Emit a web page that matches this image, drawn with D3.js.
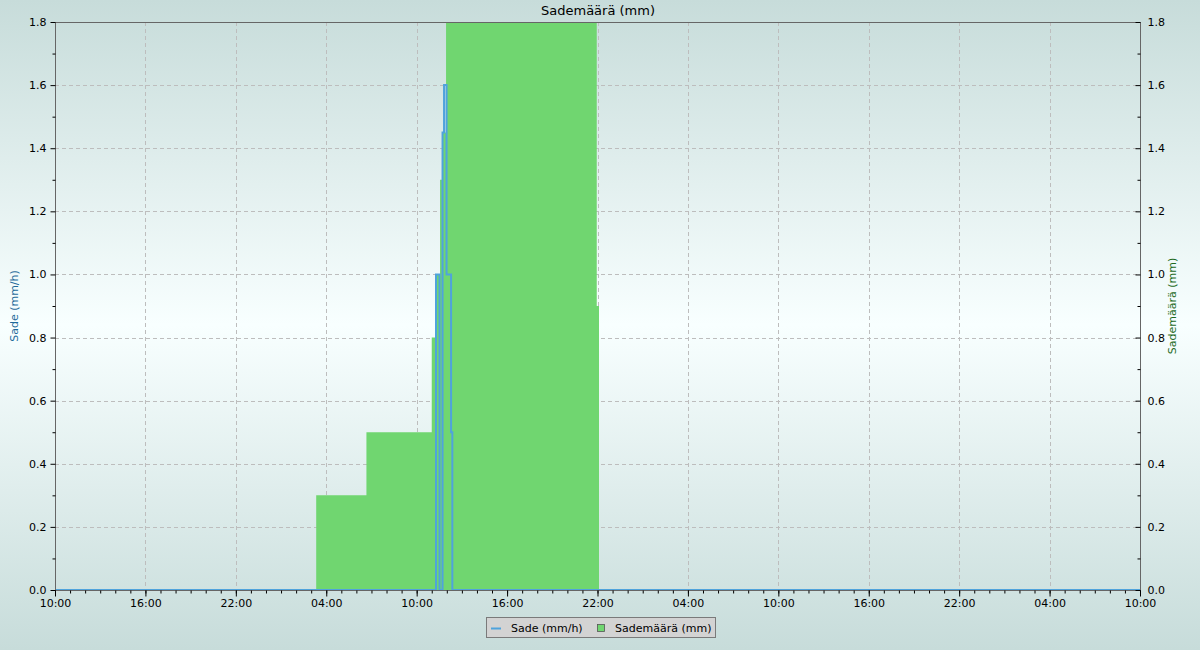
<!DOCTYPE html>
<html>
<head>
<meta charset="utf-8">
<script src="https://cdn.jsdelivr.net/npm/d3@7"></script>
<style>
  html, body { margin: 0; padding: 0; }
  svg { display: block; font-family: "DejaVu Sans", sans-serif; }
</style>
</head>
<body>
<svg id="chart" width="1200" height="650"></svg>
<script>
// ---- data ----
const domainStart = "2024-01-01 10:00";
const domainEnd = "2024-01-04 10:00";

// Sade (mm/h) - rain intensity, step series
const rateTimes = ["2024-01-01 10:00", "2024-01-02 11:17", "2024-01-02 11:31", "2024-01-02 11:43",
                   "2024-01-02 11:49", "2024-01-02 11:59", "2024-01-02 12:17", "2024-01-02 12:22",
                   "2024-01-04 10:00"];
const rateValues = [0, 1.0, 0, 1.45, 1.6, 1.0, 0.5, 0, 0];

// Sademäärä (mm) - accumulated rain, step area
const totalTimes = ["2024-01-02 03:20", "2024-01-02 06:40", "2024-01-02 11:00", "2024-01-02 11:20",
                    "2024-01-02 11:33", "2024-01-02 11:41", "2024-01-02 11:57", "2024-01-02 21:57",
                    "2024-01-02 22:06"];
const totalValues = [0.3, 0.5, 0.8, 1.0, 1.3, 1.45, 2.0, 0.9, 0];

const yTicks = [0, 0.2, 0.4, 0.6, 0.8, 1.0, 1.2, 1.4, 1.6, 1.8];
const yMinorTicks = [0.1, 0.3, 0.5, 0.7, 0.9, 1.1, 1.3, 1.5, 1.7];

const titleText = "Sademäärä (mm)";
const leftLabel = "Sade (mm/h)";
const rightLabel = "Sademäärä (mm)";
const legendLabels = ["Sade (mm/h)", "Sademäärä (mm)"];

// ---- layout ----
const W = 1200, H = 650;
const M = { left: 55, right: 1140, top: 22, bottom: 590 };
const blue = "#4fa3dc", green = "#70d670", frame = "#666666";

const parse = d3.timeParse("%Y-%m-%d %H:%M");
const t0 = parse(domainStart), t1 = parse(domainEnd);

const x = d3.scaleTime().domain([t0, t1]).range([M.left, M.right]);
const y = d3.scaleLinear().domain([0, 1.8]).range([M.bottom, M.top]);

const svg = d3.select("#chart");

// background gradient
const defs = svg.append("defs");
const grad = defs.append("linearGradient").attr("id", "bg").attr("x1", 0).attr("y1", 0).attr("x2", 0).attr("y2", 1);
grad.append("stop").attr("offset", "0%").attr("stop-color", "#c7dcda");
grad.append("stop").attr("offset", "50%").attr("stop-color", "#f8ffff");
grad.append("stop").attr("offset", "100%").attr("stop-color", "#c7dcda");
svg.append("rect").attr("width", W).attr("height", H).attr("fill", "url(#bg)");

defs.append("clipPath").attr("id", "clip").append("rect")
  .attr("x", M.left).attr("y", M.top).attr("width", M.right - M.left).attr("height", M.bottom - M.top);

// ticks
const majorX = d3.range(0, 13).map(i => d3.timeHour.offset(t0, i * 6));
const minorX = d3.timeHour.range(t0, d3.timeHour.offset(t1, 1));
const fmt = d3.timeFormat("%H:%M");

// grid
const grid = svg.append("g").attr("stroke", "#bdbdbd").attr("stroke-dasharray", "4,3").attr("stroke-width", 1);
grid.selectAll(".gx").data(majorX.slice(1, -1)).join("line")
  .attr("x1", d => Math.round(x(d)) + 0.5).attr("x2", d => Math.round(x(d)) + 0.5)
  .attr("y1", M.top).attr("y2", M.bottom);
grid.selectAll(".gy").data(yTicks.slice(1, -1)).join("line")
  .attr("x1", M.left).attr("x2", M.right)
  .attr("y1", d => Math.round(y(d)) + 0.5).attr("y2", d => Math.round(y(d)) + 0.5);

// green area
const totalData = totalTimes.map((t, i) => ({ t: parse(t), v: totalValues[i] }));
const area = d3.area().curve(d3.curveStepAfter)
  .x(d => x(d.t)).y0(y(0)).y1(d => y(d.v));
svg.append("path").datum(totalData).attr("clip-path", "url(#clip)")
  .attr("fill", green).attr("d", area);

// blue line
const rateData = rateTimes.map((t, i) => ({ t: parse(t), v: rateValues[i] }));
const line = d3.line().curve(d3.curveStepAfter).x(d => x(d.t)).y(d => y(d.v));
svg.append("path").datum(rateData).attr("clip-path", "url(#clip)")
  .attr("fill", "none").attr("stroke", blue).attr("stroke-width", 2).attr("d", line);

// frame
svg.append("rect").attr("x", M.left + 0.5).attr("y", M.top + 0.5)
  .attr("width", M.right - M.left).attr("height", M.bottom - M.top)
  .attr("fill", "none").attr("stroke", frame).attr("stroke-width", 1);

// left axis
const leftAxis = d3.axisLeft(y).tickValues(yTicks).tickFormat(d3.format(".1f")).tickSize(5).tickPadding(4);
const gl = svg.append("g").attr("transform", `translate(${M.left + 0.5},0)`).call(leftAxis);
const leftMinor = d3.axisLeft(y).tickValues(yMinorTicks).tickFormat("").tickSize(3);
const glm = svg.append("g").attr("transform", `translate(${M.left + 0.5},0)`).call(leftMinor);

// right axis (ticks inward)
const rightAxis = d3.axisRight(y).tickValues(yTicks).tickFormat(d3.format(".1f")).tickSize(-5).tickPadding(7);
const gr = svg.append("g").attr("transform", `translate(${M.right + 0.5},0)`).call(rightAxis);
const rightMinor = d3.axisRight(y).tickValues(yMinorTicks).tickFormat("").tickSize(-3);
const grm = svg.append("g").attr("transform", `translate(${M.right + 0.5},0)`).call(rightMinor);

// bottom axis
const bottomAxis = d3.axisBottom(x).tickValues(majorX).tickFormat(fmt).tickSize(6).tickPadding(3);
const gb = svg.append("g").attr("transform", `translate(0,${M.bottom + 0.5})`).call(bottomAxis);
const bottomMinor = d3.axisBottom(x).tickValues(minorX).tickFormat("").tickSize(3);
const gbm = svg.append("g").attr("transform", `translate(0,${M.bottom + 0.5})`).call(bottomMinor);

[gl, glm, gr, grm, gb, gbm].forEach(g => {
  g.select(".domain").remove();
  g.selectAll(".tick line").attr("stroke", "#000");
  g.selectAll("text").attr("font-family", "DejaVu Sans").attr("font-size", 11).attr("fill", "#000");
});

// title
svg.append("text").attr("x", (M.left + M.right) / 2 + 0.5).attr("y", 15)
  .attr("text-anchor", "middle").attr("font-size", 13).attr("fill", "#000").text(titleText);

// axis labels
svg.append("text").attr("transform", `translate(18,${(M.top + M.bottom) / 2}) rotate(-90)`)
  .attr("text-anchor", "middle").attr("font-size", 11).attr("fill", "#1f6a9a").text(leftLabel);
svg.append("text").attr("transform", `translate(1176,${(M.top + M.bottom) / 2}) rotate(-90)`)
  .attr("text-anchor", "middle").attr("font-size", 11).attr("fill", "#1d6a1d").text(rightLabel);

// legend
const lg = svg.append("g");
lg.append("rect").attr("x", 486.5).attr("y", 617.5).attr("width", 229).attr("height", 20)
  .attr("fill", "#d3d3d3").attr("stroke", "#7a7a7a");
lg.append("line").attr("x1", 491).attr("x2", 501).attr("y1", 628.5).attr("y2", 628.5)
  .attr("stroke", blue).attr("stroke-width", 2);
lg.append("text").attr("x", 511).attr("y", 632).attr("font-size", 11).attr("fill", "#000").text(legendLabels[0]);
lg.append("rect").attr("x", 597.5).attr("y", 624.5).attr("width", 7).attr("height", 7)
  .attr("fill", green).attr("stroke", "#555").attr("stroke-width", 0.8);
lg.append("text").attr("x", 615).attr("y", 632).attr("font-size", 11).attr("fill", "#000").text(legendLabels[1]);
</script>
</body>
</html>
